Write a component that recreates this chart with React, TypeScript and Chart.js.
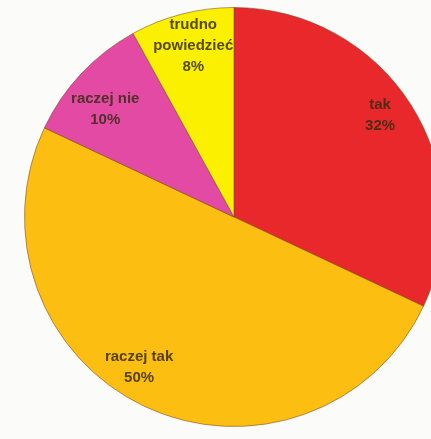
import React, { useEffect, useRef } from "react";
import { Chart, registerables } from "chart.js";

Chart.register(...registerables);

const categories = ["tak", "raczej tak", "raczej nie", "trudno powiedzieć"];
const values = [32, 50, 10, 8];
const labelLines = [["tak", "32%"], ["raczej tak", "50%"], ["raczej nie", "10%"], ["trudno", "powiedzieć", "8%"]];
const colors = ["#E8282B", "#FDBE12", "#E24AA3", "#FBF000"];
const labelAngleShift = [-2.5, 7, -3.4, 1]; // degrees
const labelRadius = [0.85, 0.85, 0.8, 0.84];

const sliceLabels = {
  id: "sliceLabels",
  afterDatasetsDraw(chart: any) {
    const ctx = chart.ctx;
    const meta = chart.getDatasetMeta(0);
    meta.data.forEach((arc: any, i: number) => {
      const { x, y, startAngle, endAngle, outerRadius } = arc.getProps(
        ["x", "y", "startAngle", "endAngle", "outerRadius"],
        true
      );
      const mid = (startAngle + endAngle) / 2 + (labelAngleShift[i] * Math.PI) / 180;
      const r = outerRadius * labelRadius[i];
      const cx = x + Math.cos(mid) * r;
      const cy = y + Math.sin(mid) * r;
      ctx.save();
      ctx.beginPath();
      ctx.moveTo(x, y);
      ctx.arc(x, y, outerRadius, startAngle, endAngle);
      ctx.closePath();
      ctx.clip();
      ctx.font = "bold 15px 'Liberation Sans', Arial, sans-serif";
      ctx.fillStyle = "rgba(55,45,20,0.85)";
      ctx.textAlign = "center";
      ctx.textBaseline = "middle";
      const lines = labelLines[i];
      const lh = 21;
      lines.forEach((t, k) => {
        ctx.fillText(t, cx, cy + (k - (lines.length - 1) / 2) * lh);
      });
      ctx.restore();
    });
  },
};

export default function App() {
  const ref = useRef<HTMLCanvasElement>(null);
  useEffect(() => {
    document.body.style.margin = "0";
    document.body.style.overflow = "hidden";
    const chart = new Chart(ref.current!, {
      type: "pie",
      data: {
        labels: categories,
        datasets: [
          {
            data: values,
            backgroundColor: colors,
            borderColor: "rgba(120,70,30,0.55)",
            borderWidth: 1,
          },
        ],
      },
      options: {
        animation: false,
        responsive: false,
        maintainAspectRatio: false,
        layout: { padding: { left: 24, right: 16, top: 7, bottom: 13 } },
        plugins: {
          legend: { display: false },
          tooltip: { enabled: false },
        },
      },
      plugins: [sliceLabels],
    });
    return () => chart.destroy();
  }, []);
  return (
    <div style={{ position: "fixed", left: 0, top: 0, width: 431, height: 439, overflow: "hidden", background: "#fbfbfa" }}>
      <canvas ref={ref} width={460} height={440} style={{ width: 460, height: 440, filter: "blur(0.6px)" }} />
    </div>
  );
}
